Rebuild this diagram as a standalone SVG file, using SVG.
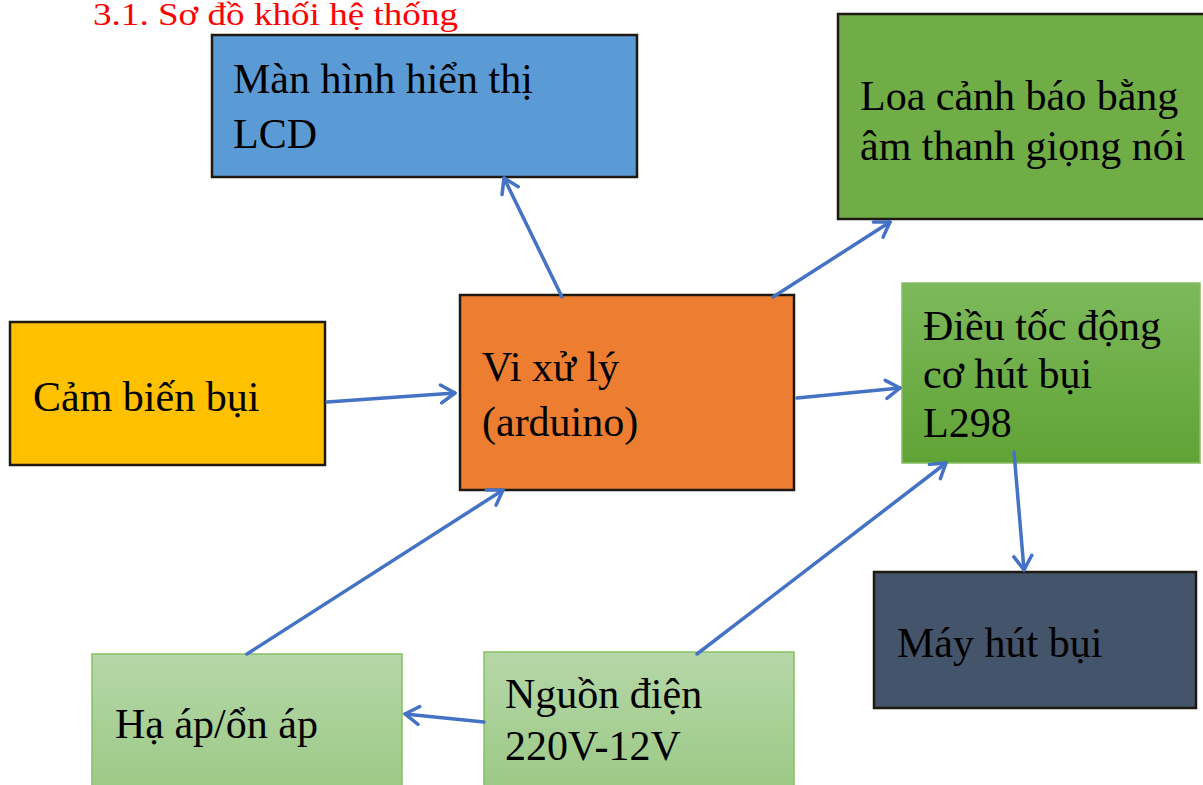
<svg xmlns="http://www.w3.org/2000/svg" width="1203" height="785" viewBox="0 0 1203 785">
<style>
  text { font-family: "Liberation Serif", "Times New Roman", serif; fill: #000; }
  .lbl { font-size: 42px; }
  .title { font-size: 31px; fill: #ff0000; }
  .conn { stroke: #4472c4; stroke-width: 3.5; fill: none; stroke-linecap: round; marker-end: url(#arr); }
  .dark { stroke: #1e1a12; stroke-width: 2.5; }
  .lgreen { stroke: #86bf64; stroke-width: 1.5; }
</style>
<defs>
  <marker id="arr" markerUnits="userSpaceOnUse" markerWidth="24" markerHeight="24" refX="17" refY="12" orient="auto">
    <path d="M3,3 L17,12 L3,21" fill="none" stroke="#4472c4" stroke-width="3.5" stroke-linecap="round" stroke-linejoin="round"/>
  </marker>
  <linearGradient id="gMid" x1="0" y1="0" x2="0" y2="1">
    <stop offset="0" stop-color="#7db95b"/>
    <stop offset="1" stop-color="#60a335"/>
  </linearGradient>
  <linearGradient id="gLight" x1="0" y1="0" x2="0" y2="1">
    <stop offset="0" stop-color="#b6d7a8"/>
    <stop offset="1" stop-color="#9bc985"/>
  </linearGradient>
</defs>

<text class="title" x="93" y="25" textLength="365" lengthAdjust="spacingAndGlyphs">3.1. Sơ đồ khối hệ thống</text>

<g id="lcd">
  <rect x="212" y="35" width="425" height="142" fill="#5b9bd5" class="dark" stroke="#1b2836"/>
  <text class="lbl" x="233" y="93">Màn hình hiển thị</text>
  <text class="lbl" x="233" y="148">LCD</text>
</g>

<g id="loa">
  <rect x="838" y="14" width="370" height="205" fill="#70ad47" class="dark" stroke="#17200f"/>
  <text class="lbl" x="860" y="110">Loa cảnh báo bằng</text>
  <text class="lbl" x="860" y="160">âm thanh giọng nói</text>
</g>

<g id="cambien">
  <rect x="10" y="322" width="315" height="143" fill="#ffc000" class="dark" stroke="#3b3016"/>
  <text class="lbl" x="33" y="411">Cảm biến bụi</text>
</g>

<g id="vixuly">
  <rect x="460" y="295" width="334" height="195" fill="#ed7d31" class="dark" stroke="#2a1a0c"/>
  <text class="lbl" x="482" y="381">Vi xử lý</text>
  <text class="lbl" x="482" y="436">(arduino)</text>
</g>

<g id="dieutoc">
  <rect x="902" y="283" width="298" height="180" fill="url(#gMid)" class="lgreen"/>
  <text class="lbl" x="923" y="340">Điều tốc động</text>
  <text class="lbl" x="923" y="388">cơ hút bụi</text>
  <text class="lbl" x="923" y="437">L298</text>
</g>

<g id="mayhut">
  <rect x="874" y="572" width="322" height="136" fill="#44546a" class="dark" stroke="#2a1a0c"/>
  <text class="lbl" x="897" y="657">Máy hút bụi</text>
</g>

<g id="haap">
  <rect x="92" y="654" width="310" height="140" fill="url(#gLight)" class="lgreen"/>
  <text class="lbl" x="115" y="738">Hạ áp/ổn áp</text>
</g>

<g id="nguon">
  <rect x="484" y="652" width="310" height="140" fill="url(#gLight)" class="lgreen"/>
  <text class="lbl" x="505" y="708">Nguồn điện</text>
  <text class="lbl" x="505" y="760">220V-12V</text>
</g>

<g id="connectors">
  <line class="conn" x1="562" y1="297" x2="504" y2="178"/>
  <line class="conn" x1="773" y1="297" x2="890" y2="222"/>
  <line class="conn" x1="327" y1="402" x2="455" y2="393"/>
  <line class="conn" x1="797" y1="398" x2="900" y2="388"/>
  <line class="conn" x1="247" y1="654" x2="503" y2="490"/>
  <line class="conn" x1="697" y1="654" x2="946" y2="463"/>
  <line class="conn" x1="484" y1="722" x2="405" y2="714"/>
  <line class="conn" x1="1014" y1="452" x2="1024" y2="570"/>
</g>
</svg>
